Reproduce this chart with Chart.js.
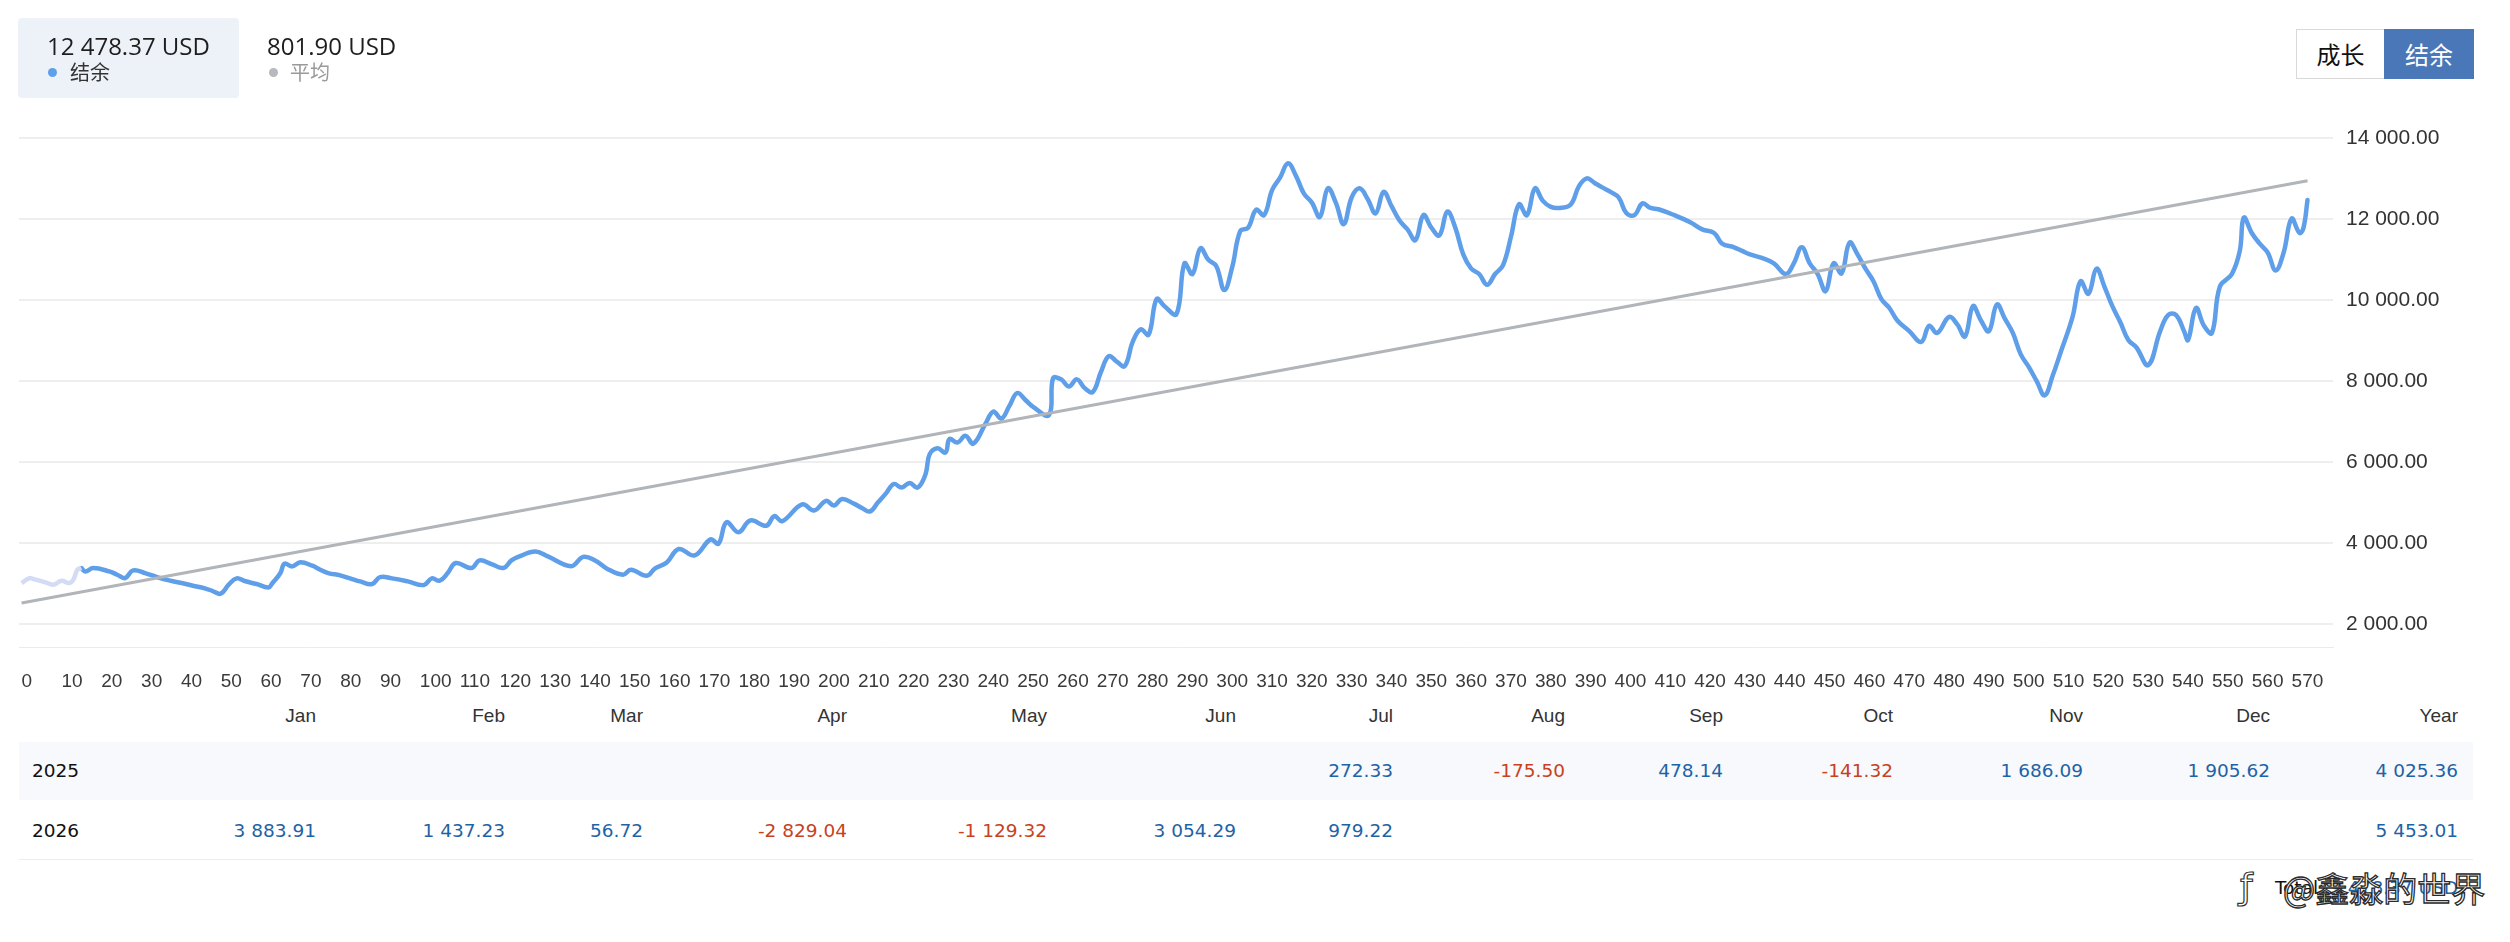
<!DOCTYPE html>
<html>
<head>
<meta charset="utf-8">
<script src="https://cdn.jsdelivr.net/npm/chart.js@4.4.1/dist/chart.umd.min.js"></script>
<style>
  html, body { margin:0; padding:0; background:#fff; width:2510px; height:942px; overflow:hidden; }
  body { position:relative; font-family:"Liberation Sans", Arial, sans-serif; }
  .abs { position:absolute; white-space:nowrap; }
  #chart { position:absolute; left:0; top:0; }
  .hdrval { font-family:"Open Sans","Noto Sans",sans-serif; font-size:24px; line-height:24px; color:#1e1e1e; }
  .lg { font-family:"Noto Sans CJK SC",sans-serif; font-size:20px; line-height:20px; }
  .dot { width:9px; height:9px; border-radius:50%; }
  .btn { box-sizing:border-box; height:50px; top:29px; font-family:"Noto Sans CJK SC",sans-serif; font-size:24px; line-height:48px; text-align:center; }
  .mon { font-family:"Liberation Sans",Arial,sans-serif; font-size:19px; line-height:20px; color:#333; text-align:right; }
  .cell { font-family:"DejaVu Sans",sans-serif; font-size:18.5px; line-height:20px; text-align:right; }
</style>
</head>
<body>
<canvas id="chart" width="2510" height="700"></canvas>

<!-- header summary -->
<div class="abs" style="left:18px;top:18px;width:221px;height:80px;background:#edf1f8;border-radius:4px;"></div>
<div class="abs hdrval" style="left:47px;top:34px;">12 478.37 USD</div>
<div class="abs dot" style="left:48px;top:67.5px;background:#5f9fe9;"></div>
<div class="abs lg" style="left:70px;top:62px;color:#333;">结余</div>
<div class="abs hdrval" style="left:267px;top:34px;">801.90 USD</div>
<div class="abs dot" style="left:268.5px;top:67.5px;background:#b6b9bd;"></div>
<div class="abs lg" style="left:290px;top:62px;color:#9a9a9a;">平均</div>

<!-- toggle buttons -->
<div class="abs btn" style="left:2296px;width:89px;border:1px solid #d9d9d9;background:#fff;color:#111;">成长</div>
<div class="abs btn" style="left:2384px;width:90px;background:#4a77b8;color:#fff;line-height:50px;">结余</div>

<!-- table -->
<div class="abs" style="left:19px;top:742px;width:2454px;height:58px;background:#f7f9fd;"></div>
<div class="abs" style="left:19px;top:859px;width:2454px;height:1px;background:#e8eef8;"></div>
<div id="table"></div>

<!-- total + watermark -->
<div class="abs cell" style="right:52px;top:878px;text-align:right;"><span style="color:#111;">Total: </span><span style="color:#1d63a6;">9 478.37 USD</span></div>
<div class="abs" style="left:2240px;top:866px;font-family:'DejaVu Sans',sans-serif;font-size:36px;line-height:42px;color:#fff;-webkit-text-stroke:1.2px #333;">ƒ</div>
<div class="abs" style="left:2283px;top:868px;font-family:'Noto Sans CJK SC',sans-serif;font-size:34px;line-height:40px;color:#fff;-webkit-text-stroke:1.3px #2a2a2a;">@鑫淼的世界</div>

<script>
// ---------- data ----------
const xTickValues = [0,10,20,30,40,50,60,70,80,90,100,110,120,130,140,150,160,170,180,190,200,210,220,230,240,250,260,270,280,290,300,310,320,330,340,350,360,370,380,390,400,410,420,430,440,450,460,470,480,490,500,510,520,530,540,550,560,570];
const yTickValues = [2000,4000,6000,8000,10000,12000,14000];

const fadedX = [0,2,3,6,8,10,12,13,14,15];
const fadedY = [3019,3143,3118,3036,2978,3077,3019,3102,3348,3390];

const balanceX = [15,16,18,22,24,26,28,31,34,37,41,43,46,48,50,52,54,56,59,62,63,65,66,68,70,73,75,77,80,83,85,88,90,93,97,101,103,105,107,109,113,115,118,121,123,125,129,132,138,141,144,147,151,153,157,159,162,165,169,173,175,177,180,183,187,189,191,196,199,202,204,206,209,211,213,215,217,219,221,223,225,227,228,230,232,233,235,237,239,242,244,246,248,250,252,254,258,259,261,263,265,267,269,271,273,275,277,279,281,283,285,287,290,292,294,296,298,300,302,304,306,308,310,312,314,316,318,320,322,324,326,328,330,332,334,336,338,340,342,344,346,348,350,352,354,356,358,360,362,364,366,368,370,372,374,376,378,380,382,384,386,389,391,393,395,397,399,401,403,405,407,409,411,415,419,422,425,427,430,432,434,437,440,443,445,447,449,451,453,455,457,459,461,463,465,467,469,471,474,477,479,481,484,486,488,490,492,494,496,498,500,502,504,506,508,510,512,515,517,519,521,523,525,527,529,531,534,537,539,541,543,544,546,548,550,552,555,557,558,560,562,564,566,568,570,572,573,574];
const balanceY = [3390,3307,3390,3307,3225,3143,3332,3266,3167,3085,3003,2953,2888,2822,2756,2978,3135,3069,2995,2912,3019,3266,3497,3431,3530,3447,3349,3266,3209,3118,3060,2995,3167,3135,3060,2970,3135,3077,3266,3513,3390,3579,3488,3390,3579,3678,3798,3683,3437,3666,3578,3375,3225,3348,3199,3375,3525,3860,3701,4098,3992,4521,4274,4565,4433,4671,4548,4962,4812,5050,4935,5094,4980,4874,4786,5006,5227,5465,5376,5491,5376,5712,6197,6347,6241,6576,6488,6655,6461,6946,7255,7078,7387,7713,7546,7369,7167,8075,8049,7872,8049,7828,7740,8225,8622,8489,8375,8974,9283,9151,10032,9856,9662,10914,10650,11285,11002,10844,10253,10826,11708,11796,12237,12105,12722,13031,13383,13075,12634,12413,12060,12766,12413,11884,12546,12766,12502,12149,12678,12325,11972,11752,11487,12105,11796,11602,12193,11796,11135,10782,10650,10385,10650,10870,11576,12369,12105,12766,12457,12308,12281,12369,12810,13013,12898,12784,12678,12546,12149,12105,12396,12281,12250,12105,11928,11752,11664,11399,11311,11223,11135,11047,10914,10650,10914,11311,10914,10650,10226,10914,10667,11426,11135,10782,10473,10032,9812,9503,9239,8974,9371,9195,9591,9415,9107,9856,9503,9239,9900,9547,9195,8666,8357,8005,7652,8137,8710,9591,10473,10165,10782,10341,9856,9459,9019,8842,8401,9239,9636,9636,9239,9019,9812,9371,9195,10341,10650,11223,12043,11664,11399,11179,10738,11179,12017,11664,11796,12478];

const averageX = [0,574];
const averageY = [2525,12955];

const months = ['Jan','Feb','Mar','Apr','May','Jun','Jul','Aug','Sep','Oct','Nov','Dec','Year'];
const years = ['2025','2026'];
const values2025 = [null,null,null,null,null,null,272.33,-175.50,478.14,-141.32,1686.09,1905.62,4025.36];
const values2026 = [3883.91,1437.23,56.72,-2829.04,-1129.32,3054.29,979.22,null,null,null,null,null,5453.01];

// ---------- layout constants ----------
const colRight = [316,505,643,847,1047,1236,1393,1565,1723,1893,2083,2270,2458];

function fmt(v){
  const neg = v < 0;
  const s = Math.abs(v).toFixed(2).split('.');
  const i = s[0].replace(/\B(?=(\d{3})+(?!\d))/g, ' ');
  return (neg ? '-' : '') + i + '.' + s[1];
}

// ---------- table ----------
const tbl = document.getElementById('table');
function addText(cls, txt, right, centerY, color){
  const d = document.createElement('div');
  d.className = 'abs ' + cls;
  d.textContent = txt;
  d.style.right = (2510 - right) + 'px';
  d.style.top = (centerY - 10) + 'px';
  if (color) d.style.color = color;
  tbl.appendChild(d);
}
months.forEach((m,i)=> addText('mon', m, colRight[i], 716));
[values2025, values2026].forEach((row, r) => {
  const cy = r === 0 ? 771 : 830.5;
  const lab = document.createElement('div');
  lab.className = 'abs cell';
  lab.style.left = '32px'; lab.style.top = (cy - 10) + 'px'; lab.style.color = '#111';
  lab.textContent = years[r];
  tbl.appendChild(lab);
  row.forEach((v,i) => {
    if (v === null) return;
    addText('cell', fmt(v), colRight[i], cy, v < 0 ? '#c8411d' : '#1d63a6');
  });
});

// ---------- chart ----------
const pts = (xs, ys) => xs.map((x,i)=>({x:x, y:ys[i]}));
const tickFont = {family:'"Liberation Sans", Arial, sans-serif'};

new Chart(document.getElementById('chart').getContext('2d'), {
  type: 'line',
  data: {
    datasets: [
      { label:'平均', data: pts(averageX, averageY), borderColor:'#b1b4b8', borderWidth:3, pointRadius:0, tension:0, fill:false },
      { label:'start', data: pts(fadedX, fadedY), borderColor:'#d3dbf5', borderWidth:4.5, pointRadius:0, tension:0.4, fill:false },
      { label:'结余', data: pts(balanceX, balanceY), borderColor:'#5f9fe9', borderWidth:4.5, pointRadius:0, tension:0.4, fill:false, borderJoinStyle:'round', borderCapStyle:'round' }
    ]
  },
  options: {
    responsive:false, animation:false, devicePixelRatio:1,
    layout:{ padding:{ left:19, top:108, right:0, bottom:0 } },
    plugins:{ legend:{display:false}, tooltip:{enabled:false} },
    scales:{
      x:{
        type:'linear', min:-0.65, max:580.4,
        grid:{display:false},
        border:{display:true, color:'#ebebeb', width:1},
        afterBuildTicks: s => { s.ticks = xTickValues.map(v=>({value:v})); },
        afterFit: s => { s.height = 53; },
        ticks:{ autoSkip:false, maxRotation:0, minRotation:0, align:'start', padding:15, color:'#3a3a3a',
                font:Object.assign({size:19}, tickFont), callback: v => String(v) }
      },
      y:{
        position:'right', min:1440, max:14750,
        grid:{ color:'#eeeeee', lineWidth:2, drawTicks:false },
        border:{display:false},
        afterBuildTicks: s => { s.ticks = yTickValues.map(v=>({value:v})); },
        afterFit: s => { s.width = 177; },
        ticks:{ padding:13, color:'#333', font:Object.assign({size:21}, tickFont), callback: v => fmt(v) }
      }
    }
  }
});
</script>
</body>
</html>
